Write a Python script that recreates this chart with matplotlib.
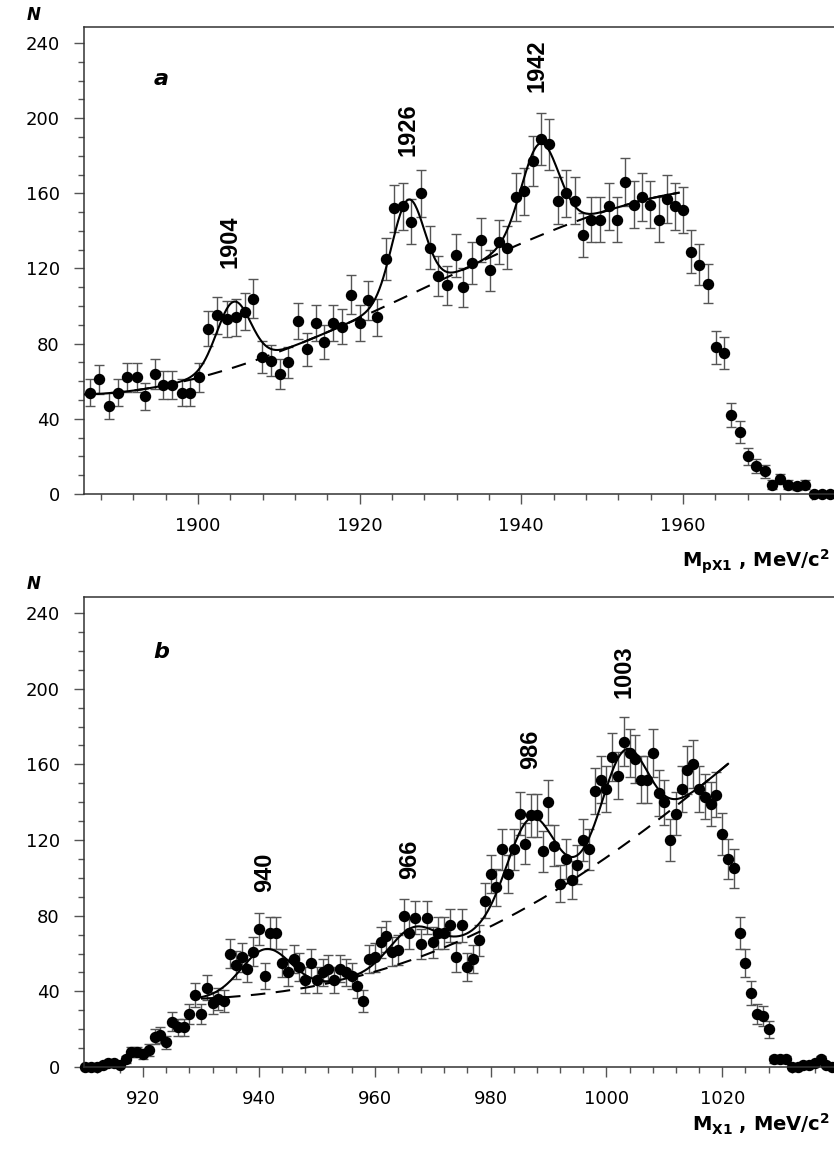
import matplotlib.pyplot as plt
from matplotlib.ticker import MultipleLocator
import numpy as np

# ---------------- panel a : M_pX1 spectrum ----------------
mass_a = [1886.6, 1887.8, 1889.0, 1890.1, 1891.2, 1892.4, 1893.4, 1894.7, 1895.7, 1896.8,
          1898.0, 1899.0, 1900.1, 1901.3, 1902.4, 1903.6, 1904.7, 1905.8, 1906.8, 1907.9,
          1909.0, 1910.1, 1911.1, 1912.4, 1913.5, 1914.6, 1915.6, 1916.7, 1917.8, 1918.9,
          1920.0, 1921.1, 1922.2, 1923.3, 1924.3, 1925.4, 1926.4, 1927.6, 1928.7, 1929.7,
          1930.8, 1931.9, 1932.8, 1933.9, 1935.0, 1936.1, 1937.2, 1938.2, 1939.3, 1940.3,
          1941.4, 1942.4, 1943.4, 1944.5, 1945.5, 1946.6, 1947.7, 1948.6, 1949.7, 1950.8,
          1951.8, 1952.8, 1953.9, 1954.9, 1955.9, 1957.0, 1958.0, 1959.0, 1960.0, 1961.0,
          1962.0, 1963.1, 1964.1, 1965.1, 1966.0, 1967.1, 1968.1, 1969.1, 1970.2, 1971.0,
          1972.0, 1973.0, 1974.1, 1975.1, 1976.2, 1977.2, 1978.2]
counts_a = [54, 61, 47, 54, 62, 62, 52, 64, 58, 58,
            54, 54, 62, 88, 95, 93, 94, 97, 104, 73,
            71, 64, 70, 92, 77, 91, 81, 91, 89, 106,
            91, 103, 94, 125, 152, 153, 145, 160, 131, 116,
            111, 127, 110, 123, 135, 119, 134, 131, 158, 161,
            177, 189, 186, 156, 160, 156, 138, 146, 146, 153,
            146, 166, 154, 158, 154, 146, 157, 153, 151, 129,
            122, 112, 78, 75, 42, 33, 20, 15, 12, 5,
            8, 5, 4, 5, 0, 0, 0]

# background (dashed)
bg_a_x = [1886, 1890, 1895, 1900, 1904, 1908, 1912, 1916, 1920, 1924,
          1928, 1932, 1936, 1940, 1944, 1948, 1952, 1956, 1959.5]
bg_a_y = [53, 54.5, 57, 61, 66, 72.5, 80, 87, 94, 102,
          109, 117, 124.5, 133, 141, 148, 153, 157, 160]
# resonance peaks on top of background
peak_a_pos = [1904.4, 1926.0, 1942.3]
peak_a_amp = [35, 51, 49]
peak_a_sig = [2.1, 2.0, 2.3]
peak_a_text = ['1904', '1926', '1942']
peak_a_text_y = [134, 194, 228]

# ---------------- panel b : M_X1 spectrum ----------------
mass_b = list(range(910, 1040))
counts_b = [0, 0, 0, 1, 2, 2, 1, 4, 8, 8,
            7, 9, 16, 17, 13, 24, 21, 21, 28, 38,
            28, 42, 34, 36, 35, 60, 54, 58, 52, 61,
            73, 48, 71, 71, 55, 50, 57, 53, 46, 55,
            46, 50, 52, 46, 52, 50, 48, 43, 35, 57,
            58, 66, 69, 61, 62, 80, 71, 79, 65, 79,
            66, 71, 71, 75, 58, 75, 53, 57, 67, 88,
            102, 95, 115, 102, 115, 134, 118, 133, 133, 114,
            140, 117, 97, 110, 99, 107, 120, 115, 146, 152,
            147, 164, 154, 172, 166, 163, 152, 152, 166, 145,
            140, 120, 134, 147, 157, 160, 147, 143, 139, 144,
            123, 110, 105, 71, 55, 39, 28, 27, 20, 4,
            4, 4, 0, 0, 1, 1, 2, 4, 1, 0]

bg_b_x = [930, 935, 940, 945, 950, 955, 960, 965, 970, 975,
          980, 985, 990, 995, 1000, 1005, 1010, 1015, 1021]
bg_b_y = [36, 37, 39, 40.5, 42.5, 46, 50.5, 55.5, 61, 67.5,
          74, 81.5, 91, 101.5, 111.5, 121, 132, 146.5, 160]
peak_b_pos = [941.2, 966.5, 986.8, 1003.1]
peak_b_amp = [23.5, 17, 46, 50]
peak_b_sig = [4.3, 4.0, 4.0, 3.9]
peak_b_text = ['940', '966', '986', '1003']
peak_b_text_y = [103, 110, 168, 209]


def fit_curves(bg_x, bg_y, centers, amps, sigmas):
    # smooth background through the read points, plus gaussian peaks
    coef = np.polyfit(bg_x, bg_y, 4)
    x = np.linspace(bg_x[0], bg_x[-1], 600)
    bg = np.polyval(coef, x)
    total = bg.copy()
    for c, a, s in zip(centers, amps, sigmas):
        total += a * np.exp(-0.5 * ((x - c) / s) ** 2)
    return x, bg, total


def draw_panel(ax, mass, counts, bg_x, bg_y, pos, amp, sig, texts, text_y, xlim):
    counts = np.array(counts, dtype=float)
    ax.errorbar(mass, counts, yerr=np.sqrt(counts), fmt='o', color='black',
                ms=7.2, ecolor='#555555', elinewidth=1.0, capsize=3.5, capthick=1.0,
                clip_on=False, zorder=2)
    x, bg, total = fit_curves(bg_x, bg_y, pos, amp, sig)
    ax.plot(x, bg, color='black', lw=1.5, dashes=(7, 5), zorder=3)
    ax.plot(x, total, color='black', lw=1.5, zorder=3)

    for p, t, ty in zip(pos, texts, text_y):
        ax.text(round(p), ty, t, rotation=90, ha='center', va='center',
                fontsize=17, fontweight='bold',
                family=['Liberation Sans Narrow', 'Liberation Sans'])

    ax.set_xlim(*xlim)
    ax.set_ylim(0, 248.5)
    ax.xaxis.set_major_locator(MultipleLocator(20))
    ax.xaxis.set_minor_locator(MultipleLocator(4))
    ax.yaxis.set_major_locator(MultipleLocator(40))
    ax.yaxis.set_minor_locator(MultipleLocator(10))
    ax.tick_params(which='both', direction='out', color='#555555', width=1.0,
                   labelsize=13, top=False, right=False)
    ax.tick_params(which='major', length=7.5)
    ax.tick_params(which='minor', length=4)
    ax.tick_params(axis='y', pad=10)
    ax.tick_params(axis='x', pad=9)
    for side in ['left', 'top', 'bottom']:
        ax.spines[side].set_color('#333333')
        ax.spines[side].set_linewidth(1.1)
    ax.spines['right'].set_visible(False)


W, H = 834, 1151
fig = plt.figure(figsize=(W / 100, H / 100), dpi=100)

ax_a = fig.add_axes([84 / W, 1 - 494 / H, 750 / W, 467 / H])
draw_panel(ax_a, mass_a, counts_a, bg_a_x, bg_a_y, peak_a_pos, peak_a_amp,
           peak_a_sig, peak_a_text, peak_a_text_y, (1885.9, 1978.7))

ax_b = fig.add_axes([84 / W, 1 - 1067 / H, 750 / W, 470 / H])
draw_panel(ax_b, mass_b, counts_b, bg_b_x, bg_b_y, peak_b_pos, peak_b_amp,
           peak_b_sig, peak_b_text, peak_b_text_y, (909.8, 1039.3))

# axis titles and panel letters
for y_n, y_let, let in [(15, 79, 'a'), (584, 652, 'b')]:
    fig.text(34 / W, 1 - y_n / H, 'N', ha='center', va='center',
             fontsize=12, fontweight='bold', style='italic')
    fig.text(161 / W, 1 - y_let / H, let, ha='center', va='center',
             fontsize=16, fontweight='bold', style='italic')

fig.text(830 / W, 1 - 562 / H, r'M$_{\mathbf{pX1}}$ , MeV/c$^{\mathbf{2}}$',
         ha='right', va='center', fontsize=14, fontweight='bold')
fig.text(830 / W, 1 - 1124 / H, r'M$_{\mathbf{X1}}$ , MeV/c$^{\mathbf{2}}$',
         ha='right', va='center', fontsize=14, fontweight='bold')

plt.savefig('out.png', dpi=100)
